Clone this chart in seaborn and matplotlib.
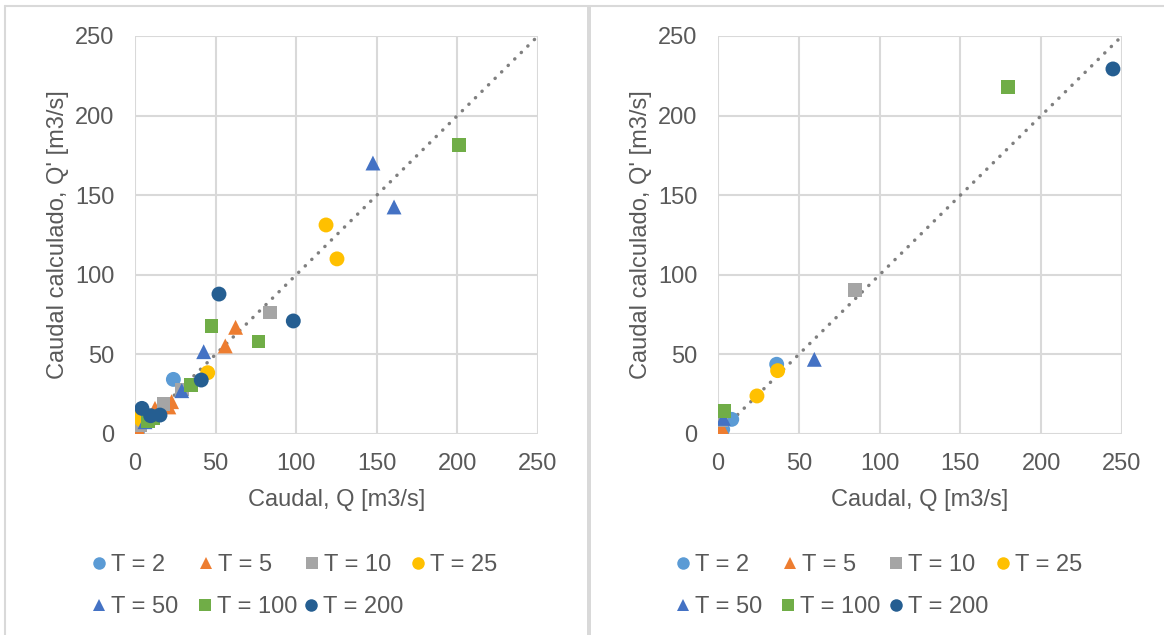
import matplotlib
matplotlib.use("Agg")
import matplotlib.pyplot as plt
from matplotlib.lines import Line2D
from matplotlib.patches import Rectangle
import seaborn as sns
import pandas as pd

# ---------------- data ----------------
series_labels = ["T = 2", "T = 5", "T = 10", "T = 25", "T = 50", "T = 100", "T = 200"]

# left panel: observed Q, calculated Q'
left_q_T2 = [0.5, 2.0, 4.0, 6.0, 23.8]
left_c_T2 = [4.5, 3.0, 7.0, 9.0, 34.3]
left_q_T5 = [2.5, 8.0, 12.4, 21.0, 22.7, 56.0, 62.4]
left_c_T5 = [2.4, 10.0, 16.1, 17.0, 20.3, 55.3, 67.0]
left_q_T10 = [3.1, 6.0, 17.6, 29.0, 83.7]
left_c_T10 = [5.7, 8.0, 18.8, 28.0, 76.2]
left_q_T25 = [1.7, 4.1, 45.1, 118.5, 125.3]
left_c_T25 = [11.3, 8.8, 38.5, 131.3, 110.0]
left_q_T50 = [6.2, 29.0, 42.6, 147.6, 160.7]
left_c_T50 = [7.7, 27.2, 51.7, 170.2, 142.6]
left_q_T100 = [8.0, 11.4, 34.7, 47.6, 76.5, 201.0]
left_c_T100 = [8.0, 9.8, 30.8, 67.8, 58.0, 181.5]
left_q_T200 = [4.3, 9.7, 15.5, 41.1, 52.1, 98.2]
left_c_T200 = [16.1, 11.5, 11.9, 33.9, 87.9, 71.0]

# right panel
right_q_T2 = [2.9, 8.5, 36.3]
right_c_T2 = [2.9, 9.2, 43.8]
right_q_T5 = [2.3]
right_c_T5 = [4.0]
right_q_T10 = [2.3, 84.8]
right_c_T10 = [8.4, 90.5]
right_q_T25 = [24.1, 36.9]
right_c_T25 = [23.9, 39.8]
right_q_T50 = [3.3, 59.6]
right_c_T50 = [9.8, 46.9]
right_q_T100 = [3.9, 179.5]
right_c_T100 = [14.6, 218.0]
right_q_T200 = [244.4]
right_c_T200 = [229.3]

axis_ticks = [0, 50, 100, 150, 200, 250]

colors = ["#5B9BD5", "#ED7D31", "#A5A5A5", "#FFC000", "#4472C4", "#70AD47", "#255E91"]
markers = ["o", "^", "s", "o", "^", "s", "o"]

left_q = [left_q_T2, left_q_T5, left_q_T10, left_q_T25, left_q_T50, left_q_T100, left_q_T200]
left_c = [left_c_T2, left_c_T5, left_c_T10, left_c_T25, left_c_T50, left_c_T100, left_c_T200]
right_q = [right_q_T2, right_q_T5, right_q_T10, right_q_T25, right_q_T50, right_q_T100, right_q_T200]
right_c = [right_c_T2, right_c_T5, right_c_T10, right_c_T25, right_c_T50, right_c_T100, right_c_T200]


def make_df(qs, cs):
    rows = []
    for lab, q, c in zip(series_labels, qs, cs):
        for a, b in zip(q, c):
            rows.append({"Q": a, "Qc": b, "T": lab})
    return pd.DataFrame(rows)


sns.set_theme(style="white")
plt.rcParams["font.family"] = ["Liberation Sans", "DejaVu Sans"]
txt = "#595959"
grid = "#D9D9D9"
FS = 17
W, H = 1164, 635

fig = plt.figure(figsize=(W / 100, H / 100), dpi=100)
fig.patch.set_facecolor("white")

pal = dict(zip(series_labels, colors))
mk = dict(zip(series_labels, markers))

axes_pos = [
    [135 / W, 1 - 434 / H, 403 / W, 398 / H],
    [718 / W, 1 - 434 / H, 404 / W, 398 / H],
]
# legend marker centre positions (pixels) for the two panels
legend_x = [
    [97, 204, 310, 416, 97, 203, 309],
    [681, 788, 894, 1001, 681, 786, 894],
]
legend_y = [565, 565, 565, 565, 607, 607, 607]

data = [(left_q, left_c), (right_q, right_c)]

for p, (pos, (qs, cs)) in enumerate(zip(axes_pos, data)):
    ax = fig.add_axes(pos)
    df = make_df(qs, cs)
    ax.plot([axis_ticks[0], axis_ticks[-1]], [axis_ticks[0], axis_ticks[-1]],
            linestyle=(0, (0.05, 2.6)), color="#7F7F7F", lw=2.5,
            dash_capstyle="round", zorder=2)
    for lab in series_labels:
        sub = df[df["T"] == lab]
        if len(sub) == 0:
            continue
        m = mk[lab]
        s = 115 if m != "s" else 95
        sns.scatterplot(data=sub, x="Q", y="Qc", color=pal[lab], marker=m,
                        s=s, edgecolor="none", linewidth=0, legend=False,
                        ax=ax, zorder=3)
    ax.set_xlim(0, 250)
    ax.set_ylim(0, 250)
    ax.set_xticks(axis_ticks)
    ax.set_yticks(axis_ticks)
    ax.grid(True, color=grid, lw=1.5, zorder=0)
    ax.set_axisbelow(True)
    for side in ax.spines:
        ax.spines[side].set_visible(False)
    ax.tick_params(axis="both", length=0, labelsize=FS, colors=txt)
    ax.tick_params(axis="x", pad=14)
    ax.tick_params(axis="y", pad=15)
    ax.set_xlabel("Caudal, Q [m3/s]", fontsize=FS, color=txt, labelpad=10)
    ax.set_ylabel("Caudal calculado, Q' [m3/s]", fontsize=FS, color=txt, labelpad=4.5)

    # legend entries placed like the reference (fixed-width columns)
    for i in range(7):
        h = Line2D([], [], linestyle="none", marker=markers[i], color=colors[i],
                   markersize=9 if markers[i] != "s" else 8.5,
                   markeredgewidth=0, label=series_labels[i])
        xpx = legend_x[p][i] - 7
        ypx = legend_y[i]
        leg = fig.legend(handles=[h], labels=[series_labels[i]], frameon=False,
                         fontsize=FS, loc="center left",
                         bbox_to_anchor=(xpx / W, 1 - ypx / H),
                         handletextpad=0.1, handlelength=0.8,
                         borderpad=0.0, borderaxespad=0.0)
        for t in leg.get_texts():
            t.set_color(txt)

# chart borders
fig.add_artist(Line2D([5 / W, 1], [1 - 6 / H, 1 - 6 / H], color=grid, lw=1.5,
                      transform=fig.transFigure))
fig.add_artist(Line2D([5 / W, 5 / W], [0, 1 - 6 / H], color=grid, lw=1.5,
                      transform=fig.transFigure))
fig.add_artist(Rectangle((587 / W, 0), 4 / W, 1 - 6 / H, color=grid,
                         transform=fig.transFigure, lw=0))

fig.savefig("out.png", dpi=100, facecolor="white")
